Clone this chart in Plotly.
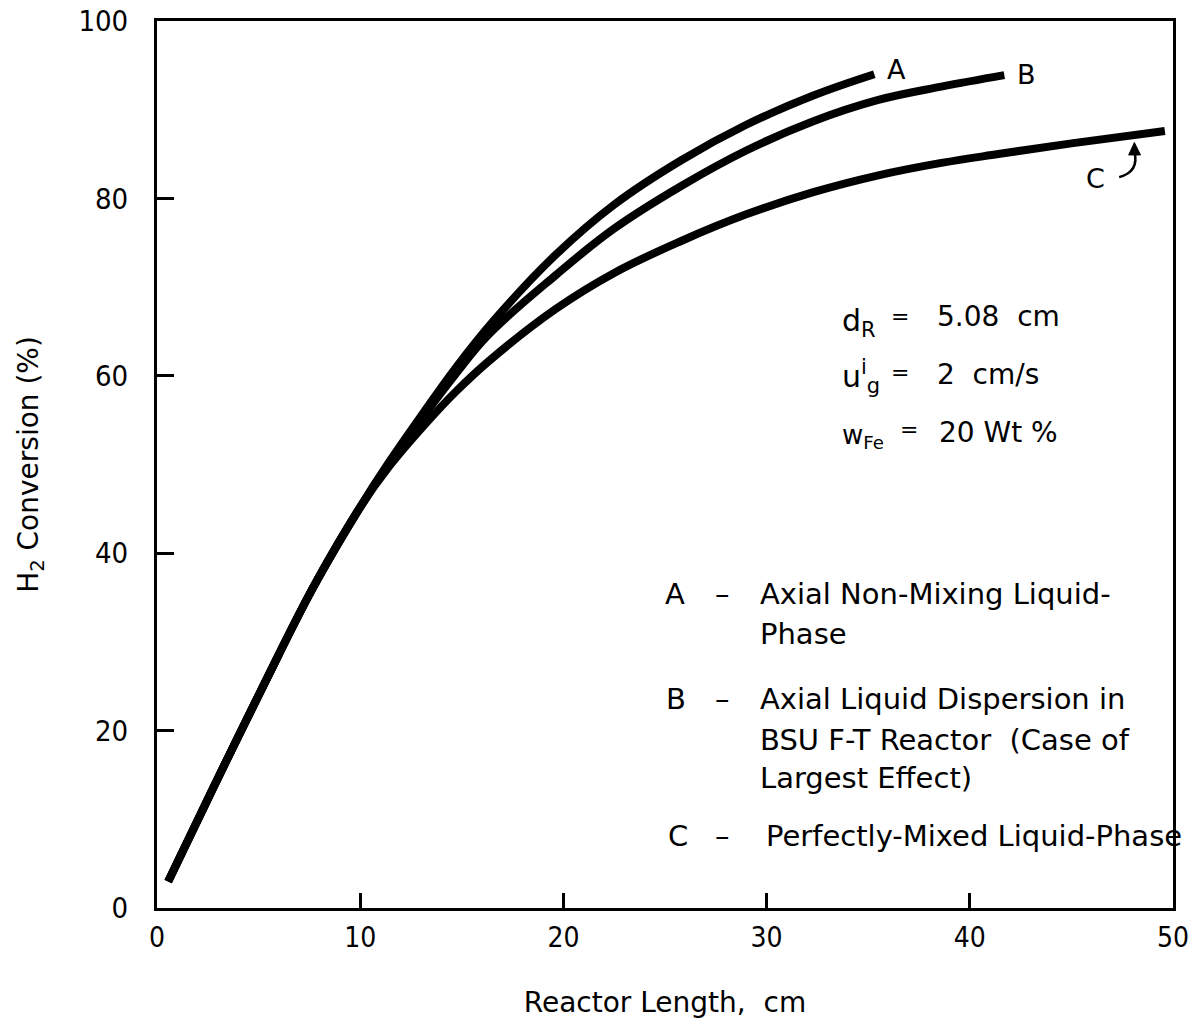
import plotly.graph_objects as go

# ---- data ----
xA = [0.55, 2.8, 5.2, 7.7, 10.0, 11.4, 13.1, 14.7, 16.6, 19.6, 22.5, 25.8, 29.0, 32.3, 35.3]
yA = [3.0, 13.7, 24.9, 36.2, 45.2, 50.2, 55.8, 60.9, 66.3, 73.6, 79.3, 84.3, 88.3, 91.6, 94.0]

xB = [0.55, 2.8, 5.2, 7.7, 10.0, 11.4, 13.1, 14.7, 16.3, 19.6, 22.5, 25.8, 29.0, 32.3, 35.5, 38.6, 41.7]
yB = [3.0, 13.7, 24.9, 36.2, 45.2, 50.1, 55.4, 60.2, 64.6, 71.3, 76.6, 81.4, 85.4, 88.7, 91.1, 92.6, 93.9]

xC = [0.55, 2.8, 5.2, 7.7, 10.0, 11.4, 13.3, 14.7, 16.3, 19.6, 22.5, 25.8, 29.0, 32.3, 35.5, 38.6, 41.4, 45.0, 49.6]
yC = [3.0, 13.7, 24.9, 36.2, 45.2, 49.7, 54.8, 58.2, 61.6, 67.5, 71.6, 75.2, 78.2, 80.7, 82.6, 84.0, 85.0, 86.2, 87.6]

x_ticks = [0, 10, 20, 30, 40, 50]
y_ticks = [0, 20, 40, 60, 80, 100]

FONT = "DejaVu Sans, Liberation Sans, sans-serif"
TICKFONT = "DejaVu Sans Condensed, Liberation Sans Narrow, sans-serif"

fig = go.Figure()
for xs, ys in [(xA, yA), (xB, yB), (xC, yC)]:
    fig.add_trace(go.Scatter(x=xs, y=ys, mode="lines",
                             line=dict(color="black", width=8, shape="spline", smoothing=1.1),
                             hoverinfo="skip"))

ann = []
def txt(x, y, s, size=28, xanchor="left", yanchor="middle"):
    ann.append(dict(x=x, y=y, xref="x", yref="y", text=s, showarrow=False,
                    xanchor=xanchor, yanchor=yanchor,
                    font=dict(family=FONT, size=size, color="black")))

# curve labels
txt(36.4, 94.5, "A", 27, "center")
txt(42.8, 94.0, "B", 27, "center")
txt(46.2, 82.3, "C", 27, "center")

# parameter block
txt(33.6, 66.0, "d<sub>R</sub>", 30)
txt(36.55, 66.7, "=", 22, "center")
txt(38.3, 66.7, "5.08  cm", 28)
txt(33.6, 59.9, "u<sup>i</sup><sub>g</sub>", 30)
txt(36.55, 60.4, "=", 22, "center")
txt(38.3, 60.2, "2  cm/s", 28)
txt(33.6, 53.2, "w<sub>Fe</sub>", 26)
txt(37.0, 53.9, "=", 22, "center")
txt(38.4, 53.6, "20 Wt %", 28)

# legend block
LS = 29
txt(25.5, 35.4, "A", LS, "center")
txt(27.85, 35.4, "–", LS, "center")
txt(29.6, 35.4, "Axial Non-Mixing Liquid-", LS)
txt(29.6, 30.9, "Phase", LS)
txt(25.55, 23.6, "B", LS, "center")
txt(27.85, 23.6, "–", LS, "center")
txt(29.6, 23.6, "Axial Liquid Dispersion in", LS)
txt(29.6, 18.9, "BSU F-T Reactor  (Case of", LS)
txt(29.6, 14.7, "Largest Effect)", LS)
txt(25.62, 8.1, "C", LS, "center")
txt(27.85, 8.1, "–", LS, "center")
txt(29.85, 8.1, "Perfectly-Mixed Liquid-Phase", LS)

shapes = [
    dict(type="path", xref="x", yref="y",
         path="M 47.35,82.4 Q 48.35,83.0 48.1,85.3",
         line=dict(color="black", width=2.5)),
    dict(type="path", xref="x", yref="y",
         path="M 48.1,86.3 L 47.82,84.9 L 48.40,84.9 Z",
         line=dict(color="black", width=1), fillcolor="black"),
]

fig.update_layout(
    width=1192, height=1032,
    margin=dict(l=157, r=19, t=21, b=124),
    paper_bgcolor="white", plot_bgcolor="white",
    showlegend=False,
    annotations=ann, shapes=shapes,
    font=dict(family=FONT, color="black"),
)
fig.update_xaxes(
    range=[0, 50], tickvals=x_ticks, ticktext=[str(v) for v in x_ticks],
    ticks="inside", ticklen=15, tickwidth=2.5, tickcolor="black",
    showline=True, linewidth=3, linecolor="black", mirror=True,
    showgrid=False, zeroline=False, ticklabelstandoff=2,
    ticklabeloverflow="allow",
    tickfont=dict(family=TICKFONT, size=28, color="black"),
    title=dict(text="Reactor Length,  cm", font=dict(family=FONT, size=28, color="black"), standoff=40),
    automargin=False,
)
fig.update_yaxes(
    range=[0, 100], tickvals=y_ticks, ticktext=[str(v) for v in y_ticks],
    ticks="inside", ticklen=17, tickwidth=2.5, tickcolor="black",
    showline=True, linewidth=3, linecolor="black", mirror=True,
    showgrid=False, zeroline=False, ticklabelstandoff=20,
    ticklabeloverflow="allow",
    tickfont=dict(family=TICKFONT, size=29, color="black"),
    title=dict(text="H<sub>2</sub> Conversion (%)", font=dict(family=FONT, size=28, color="black"), standoff=32),
    automargin=False,
)

fig.write_html("out.html")
